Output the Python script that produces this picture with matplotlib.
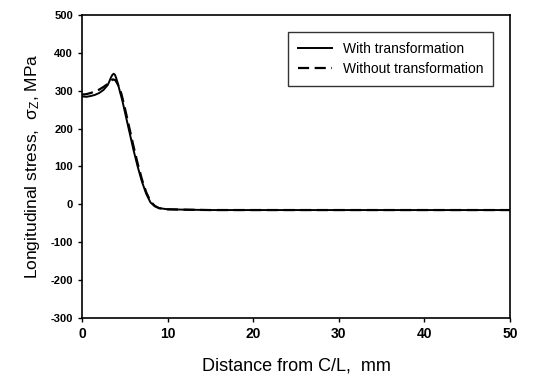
import matplotlib
matplotlib.use("Agg")
import matplotlib.pyplot as plt

plt.rcParams['font.family'] = ['Liberation Sans', 'DejaVu Sans']
plt.rcParams['axes.unicode_minus'] = False

# solid curve: with transformation
x_with = [0, 0.5, 1, 1.5, 2, 2.5, 3, 3.2, 3.4, 3.55, 3.7, 3.85, 4.0, 4.2, 4.4, 4.7, 5.0, 5.5, 6.0,
          6.5, 7.0, 7.5, 8.0, 8.5, 9.0, 10, 12, 15, 20, 30, 40, 50]
y_with = [285, 284, 286, 289, 294, 302, 315, 325, 336, 342, 345, 342, 333, 318, 300, 275, 245, 195, 145,
          100, 60, 28, 5, -5, -10, -13, -14, -15, -15, -15, -15, -15]

# dashed curve: without transformation
x_without = [0, 0.5, 1, 1.5, 2, 2.5, 3, 3.3, 3.6, 3.9, 4.2, 4.6, 5.0, 5.5, 6.0, 6.5, 7.0,
             7.5, 8.0, 8.5, 9.0, 10, 12, 15, 20, 30, 40, 50]
y_without = [290, 291, 294, 298, 303, 310, 318, 325, 330, 328, 316, 292, 255, 205, 155, 108, 66,
             32, 8, -4, -10, -13, -14, -15, -15, -15, -15, -15]

xticks = [0, 10, 20, 30, 40, 50]
yticks = [-300, -200, -100, 0, 100, 200, 300, 400, 500]

fig = plt.figure(figsize=(5.34, 3.81), dpi=100)
ax = fig.add_axes([0.1536, 0.1654, 0.8014, 0.7952])

ax.plot(x_with, y_with, color='black', lw=1.4, label='With transformation')
ax.plot(x_without, y_without, color='black', lw=1.6, ls=(0, (5, 2.5)), label='Without transformation')

ax.set_xlim(0, 50)
ax.set_ylim(-300, 500)
ax.set_xticks(xticks)
ax.set_yticks(yticks)
ax.tick_params(direction='out', length=3, width=1)
for lab in ax.get_xticklabels():
    lab.set_fontsize(10)
    lab.set_fontweight('bold')
for lab in ax.get_yticklabels():
    lab.set_fontsize(8)
    lab.set_fontweight('bold')
for sp in ax.spines.values():
    sp.set_linewidth(1.2)

ax.set_xlabel('Distance from C/L,  mm', fontsize=13, labelpad=12)
ax.set_ylabel(r'Longitudinal stress,  $\mathregular{\sigma_Z}$, MPa', fontsize=12.5, labelpad=6)

leg = ax.legend(loc='upper right', bbox_to_anchor=(0.96, 0.944), fontsize=10,
                frameon=True, fancybox=False, edgecolor='black', handlelength=2.4,
                borderpad=0.7, labelspacing=0.45, borderaxespad=0)
leg.get_frame().set_linewidth(1.0)

fig.savefig('out.png', dpi=100)
